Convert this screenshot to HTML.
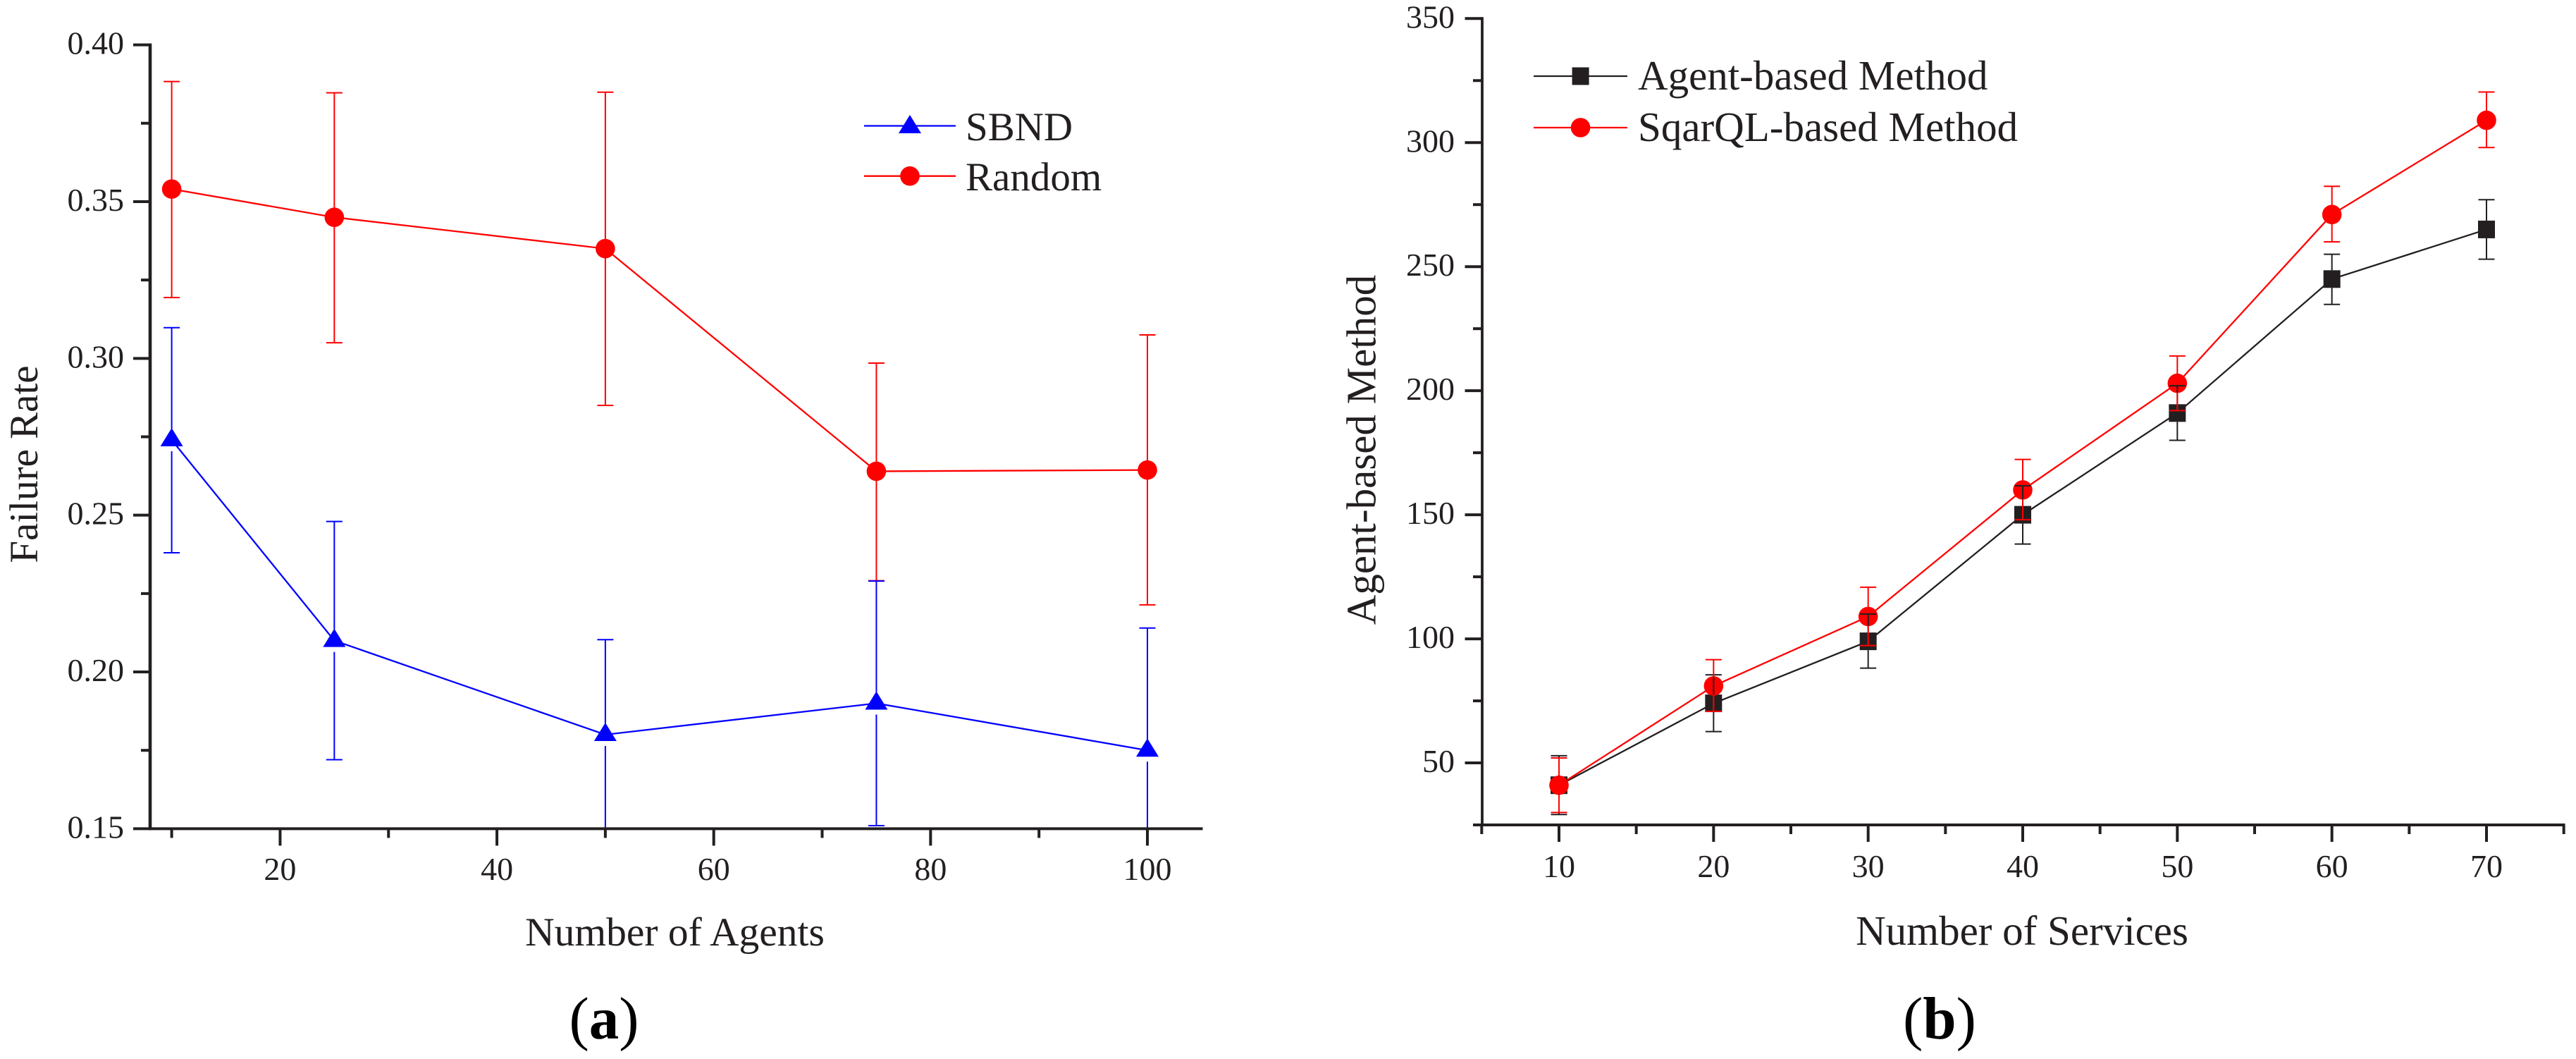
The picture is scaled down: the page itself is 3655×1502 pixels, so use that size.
<!DOCTYPE html>
<html lang="en">
<head>
<meta charset="utf-8">
<title>Failure rate and agent-based method charts</title>
<style>
html,body{margin:0;padding:0;background:#fff;}
svg{display:block;}
text{font-family:"Liberation Serif","Times New Roman",serif;fill:#231f20;}
</style>
</head>
<body>
<svg id="figure" xmlns="http://www.w3.org/2000/svg" width="3655" height="1502" viewBox="0 0 3655 1502">
<rect x="0" y="0" width="3655" height="1502" fill="#ffffff"/>
<text x="857" y="1473" font-size="85" text-anchor="middle" style="fill:#000">(<tspan font-weight="bold">a</tspan>)</text>
<text x="2752" y="1473" font-size="85" text-anchor="middle" style="fill:#000">(<tspan font-weight="bold">b</tspan>)</text>
</svg>
<script>
// Panel (a) data
const agentsCategories = [10, 25, 50, 75, 100];
const sbndValues = [0.274, 0.21, 0.18, 0.19, 0.175];
const sbndHigh = [0.3098, 0.248, 0.2103, 0.229, 0.214];
const sbndLow = [0.238, 0.172, 0.15, 0.151, 0.136];
const randomValues = [0.354, 0.345, 0.335, 0.264, 0.2644];
const randomHigh = [0.3883, 0.3847, 0.3849, 0.2985, 0.3075];
const randomLow = [0.3194, 0.305, 0.285, 0.2291, 0.2214];
const aYMajorTicks = [0.15, 0.20, 0.25, 0.30, 0.35, 0.40];
const aYMinorTicks = [0.175, 0.225, 0.275, 0.325, 0.375];
const aXMajorTicks = [20, 40, 60, 80, 100];
const aXMinorTicks = [10, 30, 50, 70, 90];

// Panel (b) data
const servicesCategories = [10, 20, 30, 40, 50, 60, 70];
const agentMethodValues = [41, 74, 99, 150, 191, 245, 265];
const agentMethodHigh = [52.9, 85.5, 110, 161.7, 202, 255, 277];
const agentMethodLow = [29.2, 62.6, 88.2, 138.2, 180, 234.8, 253];
const sqarqlValues = [41, 81, 109, 160, 203, 271, 309];
const sqarqlHigh = [52, 91.6, 120.8, 172.3, 214, 282.4, 320.4];
const sqarqlLow = [30, 70.8, 97.3, 148, 192, 260, 298];
const bYMajorTicks = [50, 100, 150, 200, 250, 300, 350];
const bYMinorTicks = [25, 75, 125, 175, 225, 275, 325];
const bXMajorTicks = [10, 20, 30, 40, 50, 60, 70];
const bXMinorTicks = [5, 15, 25, 35, 45, 55, 65, 75];

const INK = '#231f20';
const RED = '#ff0000';
const BLUE = '#0000ff';
const svg = document.getElementById('figure');
const NS = 'http://www.w3.org/2000/svg';

function make(tag, attrs, parent) {
  const el = document.createElementNS(NS, tag);
  for (const k in attrs) el.setAttribute(k, attrs[k]);
  (parent || svg).appendChild(el);
  return el;
}

function linear(d0, d1, r0, r1) {
  return function (v) { return r0 + (v - d0) * (r1 - r0) / (d1 - d0); };
}

function drawLine(x1, y1, x2, y2, color, width, name, parent) {
  const el = make('line', { x1: x1, y1: y1, x2: x2, y2: y2, stroke: color, 'stroke-width': width }, parent);
  
  
  return el;
}

function drawText(x, y, str, size, anchor, name, transform) {
  const el = make('text', { x: x, y: y, 'font-size': size, 'text-anchor': anchor });
  if (transform) el.setAttribute('transform', transform);
  el.textContent = str;
  
  
  return el;
}

function drawMarker(kind, cx, cy, color, name, parent) {
  let el;
  if (kind === 'triangle') {
    el = make('polygon', { points: (cx - 16) + ',' + (cy + 9) + ' ' + (cx + 16) + ',' + (cy + 9) + ' ' + cx + ',' + (cy - 17), fill: color }, parent);
  } else if (kind === 'square') {
    el = make('rect', { x: cx - 12, y: cy - 12.5, width: 24, height: 25, fill: color }, parent);
  } else {
    el = make('circle', { cx: cx, cy: cy, r: 13.8, fill: color }, parent);
  }
  
  
  return el;
}

function drawSeriesLine(xs, ys, xScale, yScale, color, name, parent) {
  const pts = xs.map(function (v, i) { return xScale(v) + ',' + yScale(ys[i]); }).join(' ');
  const el = make('polyline', { points: pts, fill: 'none', stroke: color, 'stroke-width': 2.3, 'stroke-linejoin': 'miter' }, parent);
  
  
}

function drawErrorBars(xs, vals, highs, lows, xScale, yScale, color, gapUp, gapDown, name, parent) {
  xs.forEach(function (v, i) {
    const x = xScale(v), yc = yScale(vals[i]), yh = yScale(highs[i]), yl = yScale(lows[i]);
    drawLine(x, yc - gapUp, x, yh, color, 2, name + '-upper-' + v, parent);
    drawLine(x - 11.5, yh, x + 11.5, yh, color, 2, name + '-cap-upper-' + v, parent);
    drawLine(x, yc + gapDown, x, yl, color, 2, name + '-lower-' + v, parent);
    drawLine(x - 11.5, yl, x + 11.5, yl, color, 2, name + '-cap-lower-' + v, parent);
  });
}

function drawAxes(cfg) {
  const xs = cfg.xScale, ys = cfg.yScale;
  drawLine(cfg.left, cfg.top - 2, cfg.left, cfg.bottom + 2, INK, cfg.yAxisWidth, cfg.id + '-y-axis');
  drawLine(cfg.left - 2, cfg.bottom, cfg.right, cfg.bottom, INK, 4, cfg.id + '-x-axis');
  cfg.yMajor.forEach(function (v) {
    drawLine(cfg.left, ys(v), cfg.left - cfg.yMajorLen, ys(v), INK, 4, cfg.id + '-y-tick-' + v);
    drawText(cfg.yLabelX, ys(v) + 13, v.toFixed(cfg.yDigits), cfg.tickSize, 'end', cfg.id + '-y-tick-label-' + v);
  });
  cfg.yMinor.forEach(function (v) {
    drawLine(cfg.left, ys(v), cfg.left - cfg.yMinorLen, ys(v), INK, 4, cfg.id + '-y-minor-tick-' + v);
  });
  cfg.xMajor.forEach(function (v) {
    drawLine(xs(v), cfg.bottom, xs(v), cfg.bottom + 24, INK, 4, cfg.id + '-x-tick-' + v);
    drawText(xs(v), cfg.xLabelY, String(v), cfg.tickSize, 'middle', cfg.id + '-x-tick-label-' + v);
  });
  cfg.xMinor.forEach(function (v) {
    drawLine(xs(v), cfg.bottom, xs(v), cfg.bottom + 13, INK, 4, cfg.id + '-x-minor-tick-' + v);
  });
}

// ---------- Panel (a) ----------
const ax = linear(10, 100, 243.6, 1628);
const ay = linear(0.15, 0.40, 1175.4, 63.6);
const panelA = make('g', {});


const clipA = make('clipPath', { id: 'clip-a' });
const clipRectA = make('rect', { x: 213, y: 40, width: 1500, height: 1137 }, clipA);
const plotA = make('g', { 'clip-path': 'url(#clip-a)' }, panelA);



drawSeriesLine(agentsCategories, randomValues, ax, ay, RED, 'random-line', plotA);
drawSeriesLine(agentsCategories, sbndValues, ax, ay, BLUE, 'sbnd-line', plotA);
drawErrorBars(agentsCategories, randomValues, randomHigh, randomLow, ax, ay, RED, 13, 13, 'random-error', plotA);
drawErrorBars(agentsCategories, sbndValues, sbndHigh, sbndLow, ax, ay, BLUE, 16, 16, 'sbnd-error', plotA);
agentsCategories.forEach(function (v, i) {
  drawMarker('circle', ax(v), ay(randomValues[i]), RED, 'random-point-' + v, plotA);
  drawMarker('triangle', ax(v), ay(sbndValues[i]), BLUE, 'sbnd-point-' + v, plotA);
});

drawAxes({
  id: 'failure-rate', xScale: ax, yScale: ay, left: 213, right: 1706.5, top: 63.6, bottom: 1175.4,
  yAxisWidth: 4.6, yMajor: aYMajorTicks, yMinor: aYMinorTicks, xMajor: aXMajorTicks, xMinor: aXMinorTicks,
  yMajorLen: 24, yMinorLen: 13, yLabelX: 176, yDigits: 2, xLabelY: 1248, tickSize: 46
});
drawText(957.5, 1341, 'Number of Agents', 57.5, 'middle', 'failure-rate-x-axis-title');
drawText(53, 658.5, 'Failure Rate', 57, 'middle', 'failure-rate-y-axis-title', 'rotate(-90 53 658.5)');

drawLine(1226, 178.5, 1356, 178.5, BLUE, 2.3, 'legend-sbnd-line');
drawMarker('triangle', 1291, 180, BLUE, 'legend-sbnd-marker');
drawText(1370, 199, 'SBND', 57, 'start', 'legend-sbnd-label');
drawLine(1226, 249.7, 1356, 249.7, RED, 2.3, 'legend-random-line');
drawMarker('circle', 1291, 249.7, RED, 'legend-random-marker');
drawText(1370, 270, 'Random', 57, 'start', 'legend-random-label');

// ---------- Panel (b) ----------
const bx = linear(10, 70, 2212, 3528);
const by = linear(25, 350, 1170, 26.3);
const panelB = make('g', {});



drawSeriesLine(servicesCategories, agentMethodValues, bx, by, INK, 'agent-based-line', panelB);
drawSeriesLine(servicesCategories, sqarqlValues, bx, by, RED, 'sqarql-based-line', panelB);
servicesCategories.forEach(function (v, i) {
  drawMarker('square', bx(v), by(agentMethodValues[i]), INK, 'agent-based-point-' + v, panelB);
});
servicesCategories.forEach(function (v, i) {
  drawMarker('circle', bx(v), by(sqarqlValues[i]), RED, 'sqarql-based-point-' + v, panelB);
});
drawErrorBars(servicesCategories, agentMethodValues, agentMethodHigh, agentMethodLow, bx, by, INK, 12.5, 12.5, 'agent-based-error', panelB);
drawErrorBars(servicesCategories, sqarqlValues, sqarqlHigh, sqarqlLow, bx, by, RED, 13, 13, 'sqarql-based-error', panelB);

drawAxes({
  id: 'agent-method', xScale: bx, yScale: by, left: 2103, right: 3639.5, top: 26.3, bottom: 1170,
  yAxisWidth: 3.8, yMajor: bYMajorTicks, yMinor: bYMinorTicks, xMajor: bXMajorTicks, xMinor: bXMinorTicks,
  yMajorLen: 24.5, yMinorLen: 13, yLabelX: 2064, yDigits: 0, xLabelY: 1244, tickSize: 46
});
drawText(2869, 1340, 'Number of Services', 59, 'middle', 'agent-method-x-axis-title');
drawText(1951.6, 638, 'Agent-based Method', 59, 'middle', 'agent-method-y-axis-title', 'rotate(-90 1951.6 638)');

drawLine(2176, 108, 2309, 108, INK, 2.3, 'legend-agent-based-line');
drawMarker('square', 2242.6, 108, INK, 'legend-agent-based-marker');
drawText(2324, 127, 'Agent-based Method', 59, 'start', 'legend-agent-based-label');
drawLine(2176, 181, 2309, 181, RED, 2.3, 'legend-sqarql-based-line');
drawMarker('circle', 2242.6, 181, RED, 'legend-sqarql-based-marker');
drawText(2324, 200, 'SqarQL-based Method', 59, 'start', 'legend-sqarql-based-label');
</script>
</body>
</html>
